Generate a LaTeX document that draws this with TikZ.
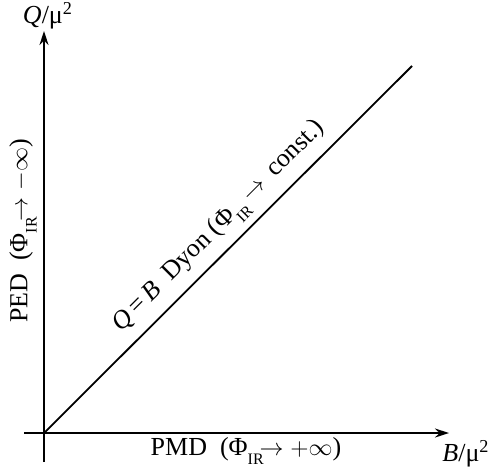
\documentclass[tikz,border=0pt]{standalone}
\usepackage{fontspec}
\setmainfont{Liberation Serif}
\usetikzlibrary{arrows.meta}
\newcommand{\irsub}{\raisebox{-0.35em}{\fontsize{8}{9}\selectfont IR}}
\begin{document}
\begin{tikzpicture}[x=0.5pt,y=-0.5pt,font=\fontsize{13}{15}\selectfont]
\useasboundingbox (0,0) rectangle (490,467);
\coordinate (o) at (44,433);
\coordinate (xl) at (24,433);
\coordinate (xr) at (449,433);
\coordinate (yb) at (44,462);
\coordinate (yt) at (44,31);
\coordinate (d) at (412,66);
\draw[line width=0.9pt,-{Stealth[length=7pt,width=4.5pt]}] (xl) -- (xr);
\draw[line width=0.9pt,-{Stealth[length=7pt,width=4.5pt]}] (yb) -- (yt);
\draw[line width=0.9pt] (o) -- (d);
\node (ql) at (48,16) {\textit{Q}/μ\textsuperscript{2}};
\node (bl) at (466,454) {\textit{B}/μ\textsuperscript{2}};
\node (pmd) at (246,451) {PMD\ \ (Φ\irsub$\!\rightarrow +\infty$)};
\node[rotate=90] (ped) at (23,231) {PED\ \ (Φ\irsub$\!\rightarrow -\infty$)};
\node[rotate=45] (dyon) at (220,227) {\textit{Q}\,=\,\textit{B}\ \ Dyon (Φ\irsub\,$\rightarrow$\, const.)};
\end{tikzpicture}
\end{document}
